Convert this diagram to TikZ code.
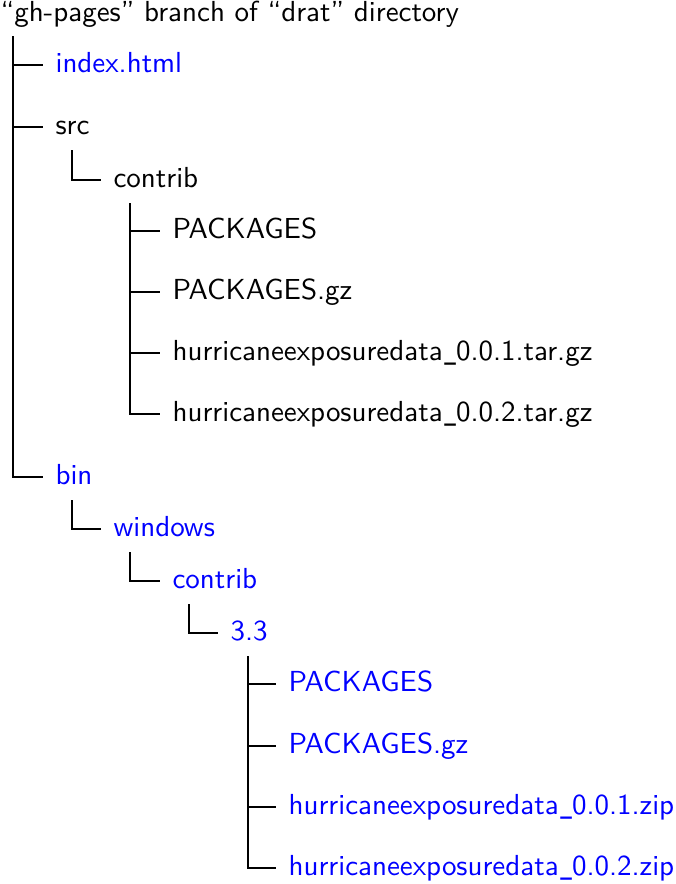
\documentclass[tikz,border=0pt]{standalone}
\usepackage{xcolor}
\usepackage{graphicx}
\usepackage{tikz}
\newcommand\lowbar{\kern.06em\scalebox{0.6}[1]{\_}}

\begin{document}
\begin{tikzpicture}[x=0.345pt,y=-0.345pt,
    item/.style={anchor=west,inner xsep=4.14pt,inner ysep=0pt,text height=7.5pt,text depth=2pt,font=\sffamily},
    web/.style={item,text=blue},
    branch/.style={draw=black,line width=0.5pt}]
  \useasboundingbox (0,0) rectangle (675,884);
  \node[anchor=base west,inner sep=0pt,text height=7.5pt,text depth=2pt,font=\sffamily] (root) at (0,22) {``gh-pages'' branch of ``drat'' directory};
  % source tree
  \node[web]  (index)      at (43,65)  {index.html};
  \node[item] (src)        at (43,127) {src};
  \node[item] (srccontrib) at (101,180) {contrib};
  \node[item] (pkg)        at (160,231) {PACKAGES};
  \node[item] (pkggz)      at (160,292) {PACKAGES.gz};
  \node[item] (tarone)     at (160,353) {hurricaneexposuredata\lowbar0.0.1.tar.gz};
  \node[item] (tartwo)     at (160,414) {hurricaneexposuredata\lowbar0.0.2.tar.gz};
  % binary tree
  \node[web] (bin)        at (43,477)  {bin};
  \node[web] (win)        at (101,529) {windows};
  \node[web] (bincontrib) at (160,581) {contrib};
  \node[web] (rver)       at (218,633) {3.3};
  \node[web] (wpkg)       at (276,684) {PACKAGES};
  \node[web] (wpkggz)     at (276,746) {PACKAGES.gz};
  \node[web] (zipone)     at (276,807) {hurricaneexposuredata\lowbar0.0.1.zip};
  \node[web] (ziptwo)     at (276,868) {hurricaneexposuredata\lowbar0.0.2.zip};

  \foreach \c in {index,src,bin}
    \draw[branch] (root.south west) ++(13,8) |- (\c.west);
  \draw[branch] (src.south west) ++(29,9) |- (srccontrib.west);
  \foreach \c in {pkg,pkggz,tarone,tartwo}
    \draw[branch] (srccontrib.south west) ++(29,9) |- (\c.west);
  \draw[branch] (bin.south west) ++(29,9) |- (win.west);
  \draw[branch] (win.south west) ++(29,9) |- (bincontrib.west);
  \draw[branch] (bincontrib.south west) ++(29,9) |- (rver.west);
  \foreach \c in {wpkg,wpkggz,zipone,ziptwo}
    \draw[branch] (rver.south west) ++(30,9) |- (\c.west);
\end{tikzpicture}
\end{document}
